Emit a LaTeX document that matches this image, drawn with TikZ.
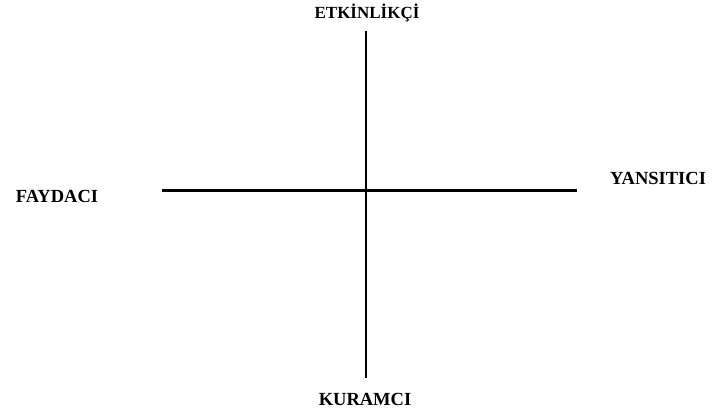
\documentclass[tikz,border=0pt]{standalone}
\usepackage{fontspec}
\setmainfont{Liberation Serif}
\begin{document}
\begin{tikzpicture}[x=1pt, y=1pt,
    axis/.style={line width=2.6pt},
    pole/.style={inner sep=0pt, anchor=base, font=\fontsize{18.5}{22}\selectfont\bfseries}]
    \useasboundingbox (0,0) rectangle (717,410);

    % axis ends
    \coordinate (T) at (366, 379.3);
    \coordinate (B) at (366, 32);
    \coordinate (L) at (162, 219.5);
    \coordinate (R) at (576.5, 219.5);

    \draw[axis] (T) -- (B);
    \draw[axis] (L) -- (R);

    % the four poles
    \node[pole, font=\fontsize{17}{20}\selectfont\bfseries] (etkin) at (367, 391) {ETKİNLİKÇİ};
    \node[pole] (kuram) at (365, 5) {KURAMCI};
    \node[pole] (fayda) at (57, 207) {FAYDACI};
    \node[pole] (yansit) at (658, 225) {YANSITICI};
\end{tikzpicture}
\end{document}
